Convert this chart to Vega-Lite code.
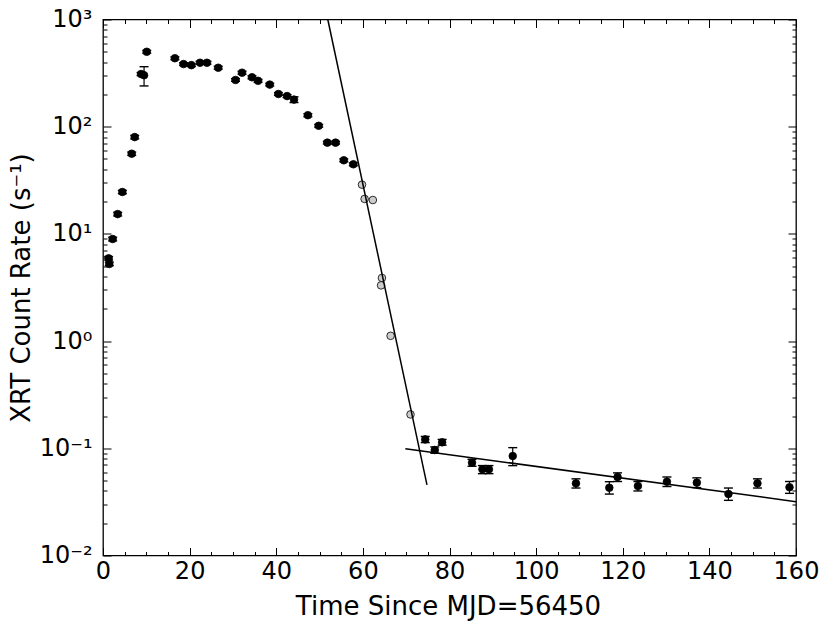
{
  "$schema": "https://vega.github.io/schema/vega-lite/v6.json",
  "width": 693,
  "height": 536,
  "autosize": {"type": "none"},
  "padding": {"left": 103, "top": 19.5, "right": 27, "bottom": 66.5},
  "background": "white",
  "config": {
    "view": {"stroke": "black", "strokeWidth": 1.3},
    "font": "DejaVu Sans",
    "axis": {
      "grid": false,
      "domain": false,
      "tickColor": "black",
      "tickWidth": 1,
      "labelFont": "DejaVu Sans",
      "labelFontSize": 24,
      "labelColor": "black",
      "labelOverlap": false,
      "labelFlush": false,
      "titleFont": "DejaVu Sans",
      "titleFontSize": 26,
      "titleFontWeight": "normal",
      "titleColor": "black"
    }
  },
  "datasets": {
    "black": [
      {"t": 1.3, "rate": 5.92, "lo": 5.7, "hi": 6.15},
      {"t": 1.45, "rate": 5.24, "lo": 5.05, "hi": 5.45},
      {"t": 2.23, "rate": 8.96, "lo": 8.6, "hi": 9.3},
      {"t": 3.39, "rate": 15.3, "lo": 14.7, "hi": 15.9},
      {"t": 4.47, "rate": 24.6, "lo": 23.7, "hi": 25.5},
      {"t": 6.63, "rate": 56, "lo": 54, "hi": 58},
      {"t": 7.32, "rate": 80, "lo": 77, "hi": 83},
      {"t": 8.79, "rate": 310, "lo": 300, "hi": 320},
      {"t": 9.48, "rate": 302, "lo": 240, "hi": 363},
      {"t": 10.1, "rate": 500, "lo": 485, "hi": 515},
      {"t": 16.6, "rate": 435, "lo": 422, "hi": 448},
      {"t": 18.6, "rate": 384, "lo": 373, "hi": 395},
      {"t": 20.4, "rate": 375, "lo": 364, "hi": 386},
      {"t": 22.4, "rate": 395, "lo": 383, "hi": 407},
      {"t": 24.0, "rate": 395, "lo": 383, "hi": 407},
      {"t": 26.6, "rate": 355, "lo": 344, "hi": 366},
      {"t": 30.6, "rate": 273, "lo": 265, "hi": 281},
      {"t": 32.1, "rate": 319, "lo": 309, "hi": 329},
      {"t": 34.4, "rate": 289, "lo": 280, "hi": 298},
      {"t": 35.8, "rate": 268, "lo": 260, "hi": 276},
      {"t": 38.5, "rate": 247, "lo": 240, "hi": 254},
      {"t": 40.5, "rate": 202, "lo": 196, "hi": 208},
      {"t": 42.5, "rate": 193, "lo": 187, "hi": 199},
      {"t": 44.1, "rate": 179, "lo": 168, "hi": 190},
      {"t": 47.3, "rate": 128, "lo": 124, "hi": 132},
      {"t": 49.8, "rate": 102, "lo": 99, "hi": 105},
      {"t": 51.8, "rate": 71, "lo": 69, "hi": 73},
      {"t": 53.7, "rate": 71, "lo": 69, "hi": 73},
      {"t": 55.6, "rate": 48.6, "lo": 47.1, "hi": 50.1},
      {"t": 57.8, "rate": 44.6, "lo": 43.2, "hi": 46},
      {"t": 74.4, "rate": 0.121, "lo": 0.113, "hi": 0.129},
      {"t": 76.6, "rate": 0.0964, "lo": 0.09, "hi": 0.103},
      {"t": 78.3, "rate": 0.1137, "lo": 0.107, "hi": 0.121},
      {"t": 85.2, "rate": 0.0734, "lo": 0.068, "hi": 0.079},
      {"t": 87.6, "rate": 0.0637, "lo": 0.058, "hi": 0.069},
      {"t": 89.1, "rate": 0.0637, "lo": 0.058, "hi": 0.069},
      {"t": 94.6, "rate": 0.0847, "lo": 0.0689, "hi": 0.1014},
      {"t": 109.2, "rate": 0.0471, "lo": 0.0426, "hi": 0.0519},
      {"t": 116.9, "rate": 0.0429, "lo": 0.0374, "hi": 0.0488},
      {"t": 118.8, "rate": 0.054, "lo": 0.049, "hi": 0.059},
      {"t": 123.5, "rate": 0.0445, "lo": 0.04, "hi": 0.049},
      {"t": 130.2, "rate": 0.0488, "lo": 0.044, "hi": 0.054},
      {"t": 137.1, "rate": 0.0478, "lo": 0.043, "hi": 0.053},
      {"t": 144.4, "rate": 0.0375, "lo": 0.0327, "hi": 0.0426},
      {"t": 151.1, "rate": 0.0471, "lo": 0.0426, "hi": 0.0519},
      {"t": 158.5, "rate": 0.0433, "lo": 0.038, "hi": 0.049}
    ],
    "gray": [
      {"t": 59.8, "rate": 28.8},
      {"t": 60.4, "rate": 21.2},
      {"t": 62.3, "rate": 20.7},
      {"t": 64.4, "rate": 3.88},
      {"t": 64.2, "rate": 3.31},
      {"t": 66.4, "rate": 1.12},
      {"t": 71.0, "rate": 0.207}
    ],
    "fit1": [
      {"t": 51.9, "rate": 1000},
      {"t": 74.8, "rate": 0.0455}
    ],
    "fit2": [
      {"t": 69.8, "rate": 0.0991},
      {"t": 160, "rate": 0.0318}
    ]
  },
  "resolve": {"axis": {"x": "independent", "y": "independent"}},
  "layer": [
    {
      "data": {"name": "black"},
      "mark": {"type": "rule", "color": "black", "strokeWidth": 1.2},
      "encoding": {
        "x": {"field": "t", "type": "quantitative",
              "scale": {"domain": [0, 160], "nice": false, "zero": false},
              "axis": {"orient": "bottom", "values": [0, 20, 40, 60, 80, 100, 120, 140, 160],
                       "tickSize": -8, "labelPadding": 30.8, "labelBaseline": "alphabetic",
                       "title": "Time Since MJD=56450", "titleX": 345, "titleY": 58.5,
                       "titleBaseline": "alphabetic", "titleAlign": "center"}},
        "y": {"field": "lo", "type": "quantitative",
              "scale": {"type": "log", "domain": [0.01, 1000], "nice": false},
              "axis": {"orient": "left", "values": [0.01, 0.1, 1, 10, 100, 1000],
                       "tickSize": -8, "labelPadding": 19, "labelBaseline": "middle",
                       "labelExpr": "datum.value >= 999 ? '10³' : datum.value >= 99 ? '10²' : datum.value >= 9 ? '10¹' : datum.value >= 0.9 ? '10⁰' : datum.value >= 0.09 ? '10⁻¹' : '10⁻²'",
                       "title": "XRT Count Rate (s⁻¹)", "titleX": -81.5, "titleY": 268,
                       "titleAngle": -90, "titleAlign": "center", "titleBaseline": "middle"}},
        "y2": {"field": "hi"}
      }
    },
    {
      "data": {"name": "black"},
      "mark": {"type": "tick", "orient": "horizontal", "color": "black", "size": 9, "thickness": 1.4, "opacity": 1},
      "encoding": {
        "x": {"field": "t", "type": "quantitative",
              "axis": {"orient": "bottom", "values": [5, 10, 15, 25, 30, 35, 45, 50, 55, 65, 70, 75, 85, 90, 95, 105, 110, 115, 125, 130, 135, 145, 150, 155],
                       "tickSize": -4, "labels": false, "title": null}},
        "y": {"field": "lo", "type": "quantitative",
              "axis": {"orient": "left", "values": [0.02, 0.03, 0.04, 0.05, 0.06, 0.07, 0.08, 0.09, 0.2, 0.3, 0.4, 0.5, 0.6, 0.7, 0.8, 0.9, 2, 3, 4, 5, 6, 7, 8, 9, 20, 30, 40, 50, 60, 70, 80, 90, 200, 300, 400, 500, 600, 700, 800, 900],
                       "tickSize": -4, "labels": false, "title": null}}
      }
    },
    {
      "data": {"name": "black"},
      "mark": {"type": "tick", "orient": "horizontal", "color": "black", "size": 9, "thickness": 1.4, "opacity": 1},
      "encoding": {
        "x": {"field": "t", "type": "quantitative",
              "axis": {"orient": "top", "values": [0, 20, 40, 60, 80, 100, 120, 140, 160],
                       "tickSize": -8, "labels": false, "title": null}},
        "y": {"field": "hi", "type": "quantitative",
              "axis": {"orient": "right", "values": [0.01, 0.1, 1, 10, 100, 1000],
                       "tickSize": -8, "labels": false, "title": null}}
      }
    },
    {
      "data": {"name": "gray"},
      "mark": {"type": "point", "shape": "circle", "filled": true, "size": 58, "fill": "#cccccc", "stroke": "black", "strokeWidth": 0.8, "opacity": 1},
      "encoding": {
        "x": {"field": "t", "type": "quantitative",
              "axis": {"orient": "top", "values": [5, 10, 15, 25, 30, 35, 45, 50, 55, 65, 70, 75, 85, 90, 95, 105, 110, 115, 125, 130, 135, 145, 150, 155],
                       "tickSize": -4, "labels": false, "title": null}},
        "y": {"field": "rate", "type": "quantitative",
              "axis": {"orient": "right", "values": [0.02, 0.03, 0.04, 0.05, 0.06, 0.07, 0.08, 0.09, 0.2, 0.3, 0.4, 0.5, 0.6, 0.7, 0.8, 0.9, 2, 3, 4, 5, 6, 7, 8, 9, 20, 30, 40, 50, 60, 70, 80, 90, 200, 300, 400, 500, 600, 700, 800, 900],
                       "tickSize": -4, "labels": false, "title": null}}
      }
    },
    {
      "data": {"name": "black"},
      "mark": {"type": "point", "shape": "circle", "filled": true, "size": 58, "fill": "black", "stroke": "black", "strokeWidth": 0.8, "opacity": 1},
      "encoding": {
        "x": {"field": "t", "type": "quantitative", "axis": null},
        "y": {"field": "rate", "type": "quantitative", "axis": null}
      }
    },
    {
      "data": {"name": "fit1"},
      "mark": {"type": "line", "color": "black", "strokeWidth": 1.5, "clip": true},
      "encoding": {
        "x": {"field": "t", "type": "quantitative", "axis": null},
        "y": {"field": "rate", "type": "quantitative", "axis": null}
      }
    },
    {
      "data": {"name": "fit2"},
      "mark": {"type": "line", "color": "black", "strokeWidth": 1.5, "clip": true},
      "encoding": {
        "x": {"field": "t", "type": "quantitative", "axis": null},
        "y": {"field": "rate", "type": "quantitative", "axis": null}
      }
    }
  ]
}
